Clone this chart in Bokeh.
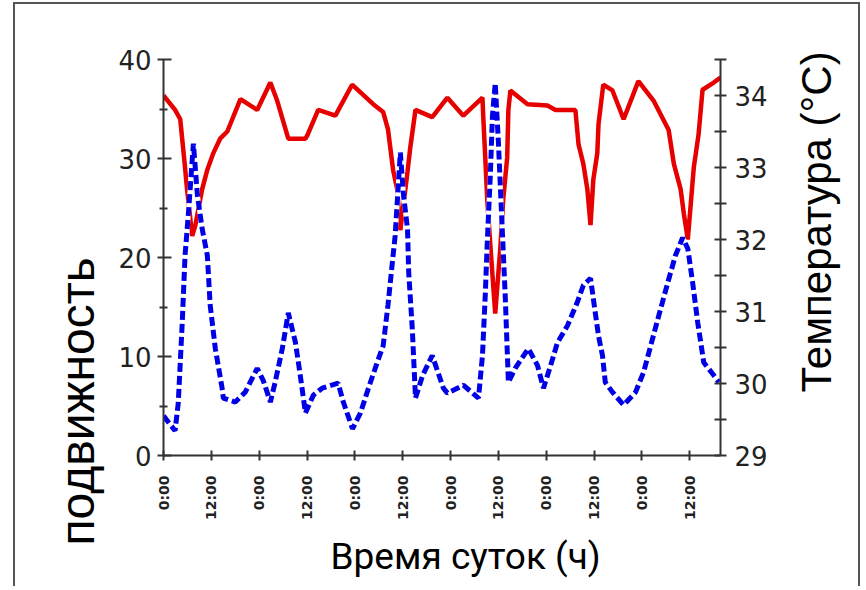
from math import pi
from bokeh.plotting import figure
from bokeh.models import Range1d, LinearAxis, FixedTicker, Label, Title
from bokeh.embed import file_html
from bokeh.resources import INLINE

# ---- data ----
hours_temp = [0, 2.9, 4.2, 5.4, 5.9, 7.2, 8.0, 9.7, 11.0, 12.5,
              14.2, 16.0, 19.3, 23.5, 26.8, 28.5, 31.3, 35.6, 36.1, 38.8,
              43.1, 47.3, 52.6, 55.1, 56.3, 57.6, 58.6, 59.4, 61.2, 61.9,
              63.2, 67.4, 71.2, 75.2, 80.0, 80.2, 80.7, 81.2, 82.0, 83.2,
              84.5, 85.2, 86.2, 86.5, 87.0, 91.3, 96.3, 98.3, 103.3, 104.1,
              105.3, 106.3, 107.1, 107.8, 108.8, 109.1, 110.3, 112.6, 115.4, 119.1,
              122.9, 126.7, 128.0, 129.7, 130.5, 131.5, 133.0, 134.2, 135.2, 138.0,
              139.7]
temperature = [34.0, 33.8, 33.67, 33.0, 32.7, 32.05, 32.2, 32.7, 32.97, 33.2,
               33.4, 33.5, 33.95, 33.8, 34.18, 33.93, 33.4, 33.4, 33.45, 33.8,
               33.72, 34.15, 33.88, 33.77, 33.53, 32.96, 32.7, 32.13, 32.94, 33.28,
               33.8, 33.7, 33.97, 33.72, 33.97, 33.7, 33.14, 32.55, 31.9, 30.97,
               31.9, 32.55, 33.14, 33.8, 34.07, 33.88, 33.86, 33.8, 33.8, 33.32,
               33.05, 32.7, 32.2, 32.83, 33.2, 33.6, 34.15, 34.07, 33.67, 34.2,
               33.93, 33.52, 33.05, 32.7, 32.36, 32.0, 33.0, 33.46, 34.08, 34.18,
               34.25]

hours_act = [0, 2.9, 3.7, 4.7, 5.4, 6.2, 7.5, 8.5, 9.7, 11.0,
             11.7, 13.0, 14.7, 15.0, 18.0, 20.5, 23.5, 25.0, 26.8, 28.0,
             29.8, 31.3, 33.1, 34.3, 35.6, 37.6, 39.8, 43.8, 45.1, 47.4,
             49.4, 51.4, 53.6, 55.1, 56.3, 57.4, 58.1, 59.4, 60.2, 61.2,
             61.5, 62.4, 63.2, 65.0, 67.4, 70.2, 71.2, 75.2, 79.0, 80.0,
             80.7, 81.2, 82.0, 82.5, 83.2, 84.0, 85.0, 85.7, 86.5, 88.2,
             91.5, 93.8, 95.3, 97.1, 98.8, 101.3, 103.8, 105.3, 107.1, 108.3,
             109.1, 110.1, 110.8, 112.6, 115.4, 118.4, 120.4, 122.2, 124.2, 126.5,
             128.4, 130.2, 131.5, 132.7, 134.0, 135.5, 138.0, 139.3]
activity = [4.0, 2.5, 5.3, 13.4, 20.2, 24.2, 31.5, 26.3, 22.9, 20.2,
            15.2, 10.8, 6.8, 5.8, 5.4, 6.4, 8.8, 7.6, 5.4, 7.4,
            10.8, 14.4, 11.4, 8.1, 4.3, 6.1, 6.8, 7.3, 5.4, 2.7,
            4.3, 6.8, 9.4, 11.1, 15.2, 19.5, 22.2, 30.6, 26.3, 22.9,
            18.5, 12.8, 5.8, 8.1, 10.1, 6.8, 6.3, 7.1, 5.8, 10.1,
            16.2, 21.5, 28.6, 34.3, 37.6, 31.6, 22.5, 16.2, 7.4, 8.8,
            10.8, 9.1, 6.8, 9.1, 11.4, 13.1, 15.5, 17.2, 17.9, 14.4,
            12.1, 10.1, 7.4, 6.4, 5.1, 6.4, 8.4, 11.1, 14.1, 17.5,
            20.2, 22.0, 20.9, 17.5, 13.4, 9.4, 8.1, 7.4]

x_ticks = [0, 12, 24, 36, 48, 60, 72, 84, 96, 108, 120, 132]
x_tick_labels = ["0:00", "12:00", "0:00", "12:00", "0:00", "12:00",
                 "0:00", "12:00", "0:00", "12:00", "0:00", "12:00"]
left_ticks = [0, 10, 20, 30, 40]
left_minor = [5, 15, 25, 35]
right_ticks = [29, 30, 31, 32, 33, 34]
right_minor = [29.5, 30.5, 31.5, 32.5, 33.5, 34.5]

y_title = "подвижность"
x_title = "Время суток (ч)"
r_title = "Температура (°C)"

# ---- figure ----
p = figure(width=847, height=584, output_backend="svg", toolbar_location=None,
           x_range=Range1d(0, 139.7), y_range=Range1d(0, 40),
           min_border_left=148, min_border_right=142,
           min_border_top=55, min_border_bottom=133)
p.margin = (2, 0, 0, 13)
p.styles = {"border-left": "2px solid #555", "border-top": "2px solid #555",
            "border-right": "2px solid #555"}
p.extra_y_ranges = {"temp": Range1d(29, 34.5)}
p.outline_line_color = None
p.xgrid.visible = False
p.ygrid.visible = False
p.background_fill_color = "white"
p.border_fill_color = "white"

p.line(hours_temp, temperature, y_range_name="temp",
       line_color="#e60000", line_width=4.5)
p.line(hours_act, activity, line_color="white", line_width=5)
p.line(hours_act, activity, line_color="#0000e6", line_width=5, line_dash="9 4")

def style_axis(ax):
    ax.axis_line_color = "#333333"
    ax.axis_line_width = 2
    ax.major_tick_line_color = "#333333"
    ax.major_tick_line_width = 2
    ax.minor_tick_line_color = "#333333"
    ax.minor_tick_line_width = 2
    ax.major_label_text_color = "#222222"

xa = p.xaxis[0]
xa.ticker = FixedTicker(ticks=x_ticks)
xa.major_label_overrides = {t: l for t, l in zip(x_ticks, x_tick_labels)}
xa.major_label_orientation = pi / 2
xa.major_label_text_font = "DejaVu Sans"
xa.major_label_text_font_style = "bold"
xa.major_label_text_font_size = "14px"
xa.major_tick_in = 5
xa.major_tick_out = 5
xa.major_label_standoff = 15
style_axis(xa)

ya = p.yaxis[0]
ya.ticker = FixedTicker(ticks=left_ticks, minor_ticks=left_minor)
ya.major_label_text_font = "DejaVu Sans"
ya.major_label_text_font_size = "26px"
ya.major_tick_in = 8
ya.major_tick_out = 6
ya.minor_tick_in = 4
ya.minor_tick_out = 4
ya.major_label_standoff = 6
style_axis(ya)

ra = LinearAxis(y_range_name="temp",
                ticker=FixedTicker(ticks=right_ticks, minor_ticks=right_minor))
ra.major_label_text_font = "DejaVu Sans"
ra.major_label_text_font_size = "26px"
ra.major_tick_in = 6
ra.major_tick_out = 6
ra.minor_tick_in = 6
ra.minor_tick_out = 6
ra.major_label_standoff = 8
style_axis(ra)
p.add_layout(ra, "right")

# axis titles
p.add_layout(Title(text=y_title, align="left", offset=-90, standoff=24,
                   text_font="Liberation Sans", text_font_size="48px",
                   text_font_style="normal", text_color="black"), "left")
p.add_layout(Title(text=x_title, align="left", offset=167, standoff=18,
                   text_font="Roboto", text_font_size="37px",
                   text_font_style="normal", text_color="black"), "below")
p.add_layout(Label(x=46, y=63, x_units="screen", y_units="screen", text=r_title,
                   angle=pi / 2, text_align="left", text_baseline="alphabetic",
                   text_font="Liberation Sans", text_font_size="42px",
                   text_color="black"), "right")

open("out.html", "w").write(file_html(p, INLINE))
